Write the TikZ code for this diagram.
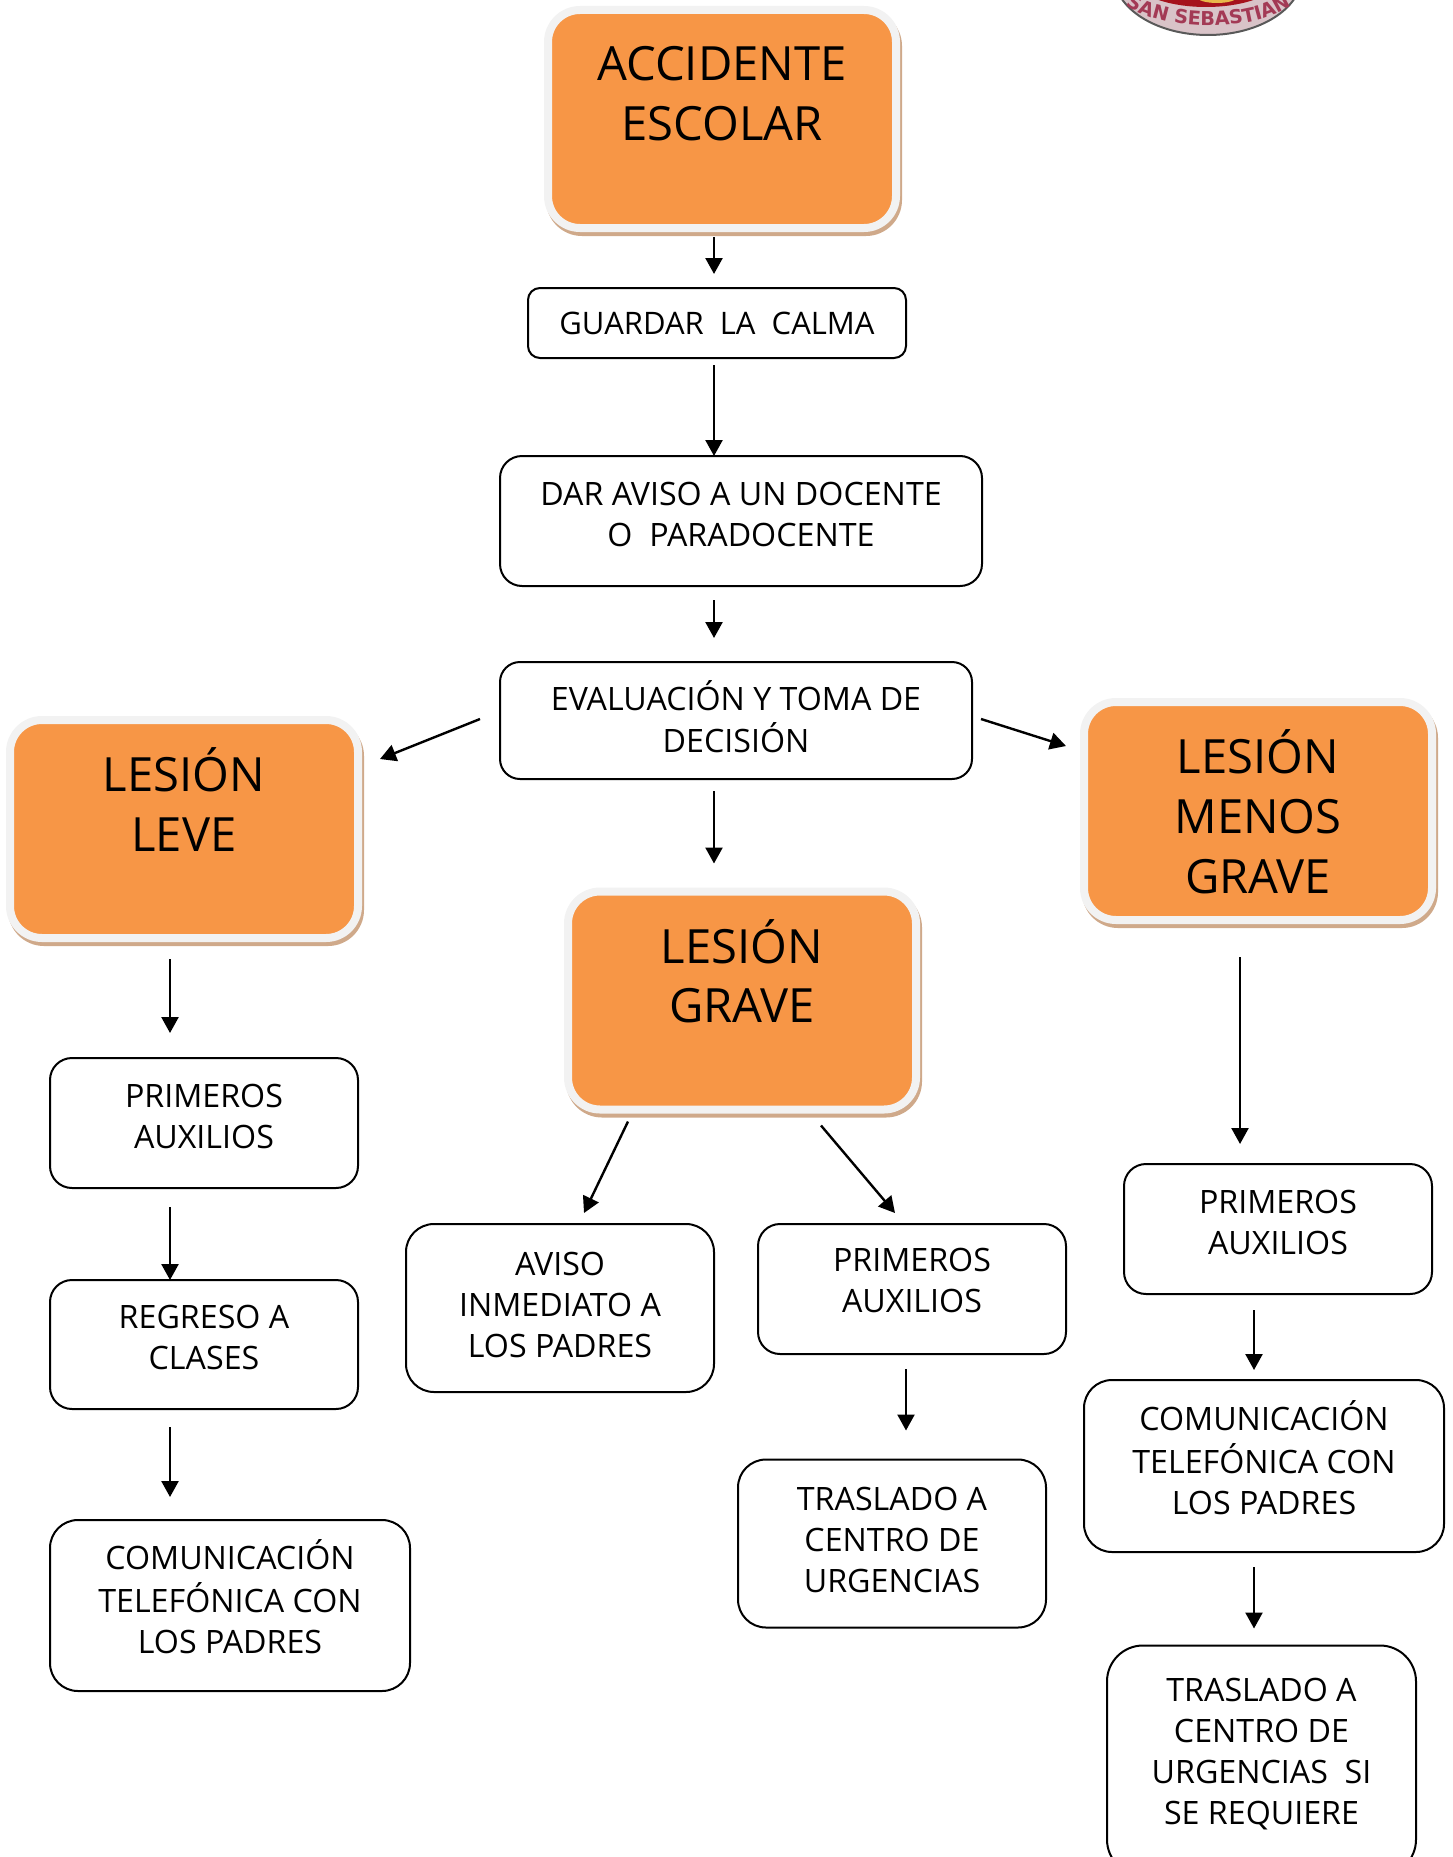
\documentclass[tikz,border=0pt]{standalone}
\usepackage{fontspec}
\setmainfont{Open Sans}
\newfontfamily\logofont{DejaVu Sans}
\usetikzlibrary{arrows.meta,calc,decorations.text}
\definecolor{orangefill}{HTML}{F79646}
\definecolor{rimgrey}{HTML}{F2F2F2}
\definecolor{rimtan}{HTML}{CFA98A}
\definecolor{logoring}{HTML}{D9C3C8}
\definecolor{logored}{HTML}{A5121C}
\definecolor{logotext}{HTML}{A33A55}
\definecolor{logogold}{HTML}{E8B84A}
\newsavebox{\LinesBox}
\newcommand{\Lines}[2][0pt]{\sbox{\LinesBox}{\begin{tabular}{@{}c@{}}#2\end{tabular}}%
  \raisebox{\dimexpr#1-(\ht\LinesBox-\dp\LinesBox)/2\relax}[0pt][0pt]{\usebox{\LinesBox}}}
\tikzset{
  x=0.5pt,y=-0.5pt,
  plainbox/.style={draw=black,line width=1pt,fill=white,outer sep=0pt,inner sep=0pt,font=\fontsize{16.1}{20.5}\selectfont},
  headbox/.style={draw=rimgrey,line width=4pt,fill=orangefill,outer sep=0pt,inner sep=0pt,rounded corners=16pt,
    minimum width=174pt,minimum height=109pt,font=\fontsize{23.6}{29.8}\selectfont,
    preaction={draw=rimtan,line width=4pt,transform canvas={shift={(1pt,-2pt)}}}},
  arr/.style={draw=black,line width=1.2pt,-{Triangle[width=8.5pt,length=8pt]}}
}
\begin{document}
\begin{tikzpicture}
\useasboundingbox (0,0) rectangle (1452,1857);
\clip (0,0) rectangle (1452,1857);
% logo
\fill[logoring,draw=black!65,line width=1pt] (1208,-25) ellipse [x radius=94,y radius=60];
\fill[logored] (1206,-25) ellipse [x radius=76,y radius=32];
\fill[logogold] (1217,-3) ellipse [x radius=20,y radius=6];
\path[decorate,decoration={text along path,text align=center,text color=logotext,
  text={|\logofont\fontsize{9.6}{9.6}\bfseries|SAN SEBASTIAN}}]
  (1105,-20) .. controls (1125,41) and (1295,41) .. (1311,-20);
% orange headings
\node[headbox] (acc) at (722,119) {\Lines[-4.7pt]{ACCIDENTE\\ESCOLAR\\\mbox{}}};
\node[headbox] (lev) at (184,829) {\Lines[-4.7pt]{LESIÓN\\LEVE\\\mbox{}}};
\node[headbox] (gra) at (742,1000.5) {\Lines[-4.7pt]{LESIÓN\\GRAVE\\\mbox{}}};
\node[headbox] (men) at (1258,811) {\Lines[-4.7pt]{LESIÓN\\MENOS\\GRAVE}};
% white boxes
\node[plainbox,minimum width=189pt,minimum height=35pt,rounded corners=6pt,font=\fontsize{15.5}{20.5}\selectfont] (gua) at (717,323) {\Lines[-1.8pt]{GUARDAR~~LA~~CALMA}};
\node[plainbox,minimum width=241pt,minimum height=65pt,rounded corners=11pt] (dar) at (741,521) {\Lines[1.8pt]{DAR AVISO A UN DOCENTE\\O~~PARADOCENTE}};
\node[plainbox,minimum width=236pt,minimum height=58.5pt,rounded corners=10pt] (eva) at (736,720.5) {\Lines[-1.2pt]{EVALUACIÓN Y TOMA DE\\DECISIÓN}};
\node[plainbox,minimum width=154pt,minimum height=65pt,rounded corners=11pt] (pa1) at (204,1123) {\Lines[1.8pt]{PRIMEROS\\AUXILIOS}};
\node[plainbox,minimum width=154pt,minimum height=64.5pt,rounded corners=11pt] (reg) at (204,1344.5) {\Lines[1.8pt]{REGRESO A\\CLASES}};
\node[plainbox,minimum width=180pt,minimum height=85.5pt,rounded corners=14pt] (com1) at (230,1605.5) {\Lines[1.5pt]{COMUNICACIÓN\\TELEFÓNICA CON\\LOS PADRES}};
\node[plainbox,minimum width=154pt,minimum height=84pt,rounded corners=14pt] (avi) at (560,1308) {\Lines{AVISO\\INMEDIATO A\\LOS PADRES}};
\node[plainbox,minimum width=154pt,minimum height=65pt,rounded corners=11pt] (pa2) at (912,1289) {\Lines[2.4pt]{PRIMEROS\\AUXILIOS}};
\node[plainbox,minimum width=154pt,minimum height=84pt,rounded corners=14pt] (tr2) at (892,1543.5) {\Lines{TRASLADO A\\CENTRO DE\\URGENCIAS}};
\node[plainbox,minimum width=154pt,minimum height=65pt,rounded corners=11pt] (pa3) at (1278,1229) {\Lines[1.8pt]{PRIMEROS\\AUXILIOS}};
\node[plainbox,minimum width=180pt,minimum height=86pt,rounded corners=14pt] (com3) at (1264,1466) {\Lines[1.2pt]{COMUNICACIÓN\\TELEFÓNICA CON\\LOS PADRES}};
\node[plainbox,minimum width=154.5pt,minimum height=115pt,rounded corners=18pt] (tr3) at (1261.5,1760.5) {\Lines[3pt]{TRASLADO A\\CENTRO DE\\URGENCIAS~~SI\\SE REQUIERE}};
% connectors
\draw[arr] ($(acc.south)+(-8,9)$) -- ($(gua.north)+(-3,-14)$);
\draw[arr] ($(gua.south)+(-3,7)$) -- ($(dar.north)+(-27,0)$);
\draw[arr] ($(dar.south)+(-27,14)$) -- ($(eva.north)+(-22,-24)$);
\draw[arr] ($(eva.west)+(-20,-1.5)$) -- ($(lev.north east)+(22,39)$);
\draw[arr] ($(eva.south)+(-22,12)$) -- ($(gra.north)+(-28,-28)$);
\draw[arr] ($(eva.east)+(9,-1.5)$) -- ($(men.north west)+(-18,44)$);
\draw[arr] ($(lev.south)+(-14,21)$) -- ($(pa1.north)+(-34,-25)$);
\draw[arr] ($(pa1.south)+(-34,19)$) -- ($(reg.north)+(-34,0)$);
\draw[arr] ($(reg.south)+(-34,18)$) -- ($(com1.north)+(-60,-23)$);
\draw[arr] ($(gra.south)+(-114,12)$) -- ($(avi.north)+(24,-11)$);
\draw[arr] ($(gra.south)+(79,16)$) -- ($(pa2.north)+(-17,-11)$);
\draw[arr] ($(pa2.south)+(-6,15)$) -- ($(tr2.north)+(14,-29)$);
\draw[arr] ($(men.south)+(-18,37)$) -- ($(pa3.north)+(-38,-20)$);
\draw[arr] ($(pa3.south)+(-24,16)$) -- ($(com3.north)+(-10,-10)$);
\draw[arr] ($(com3.south)+(-10,15)$) -- ($(tr3.north)+(-7.5,-17)$);
\end{tikzpicture}
\end{document}
